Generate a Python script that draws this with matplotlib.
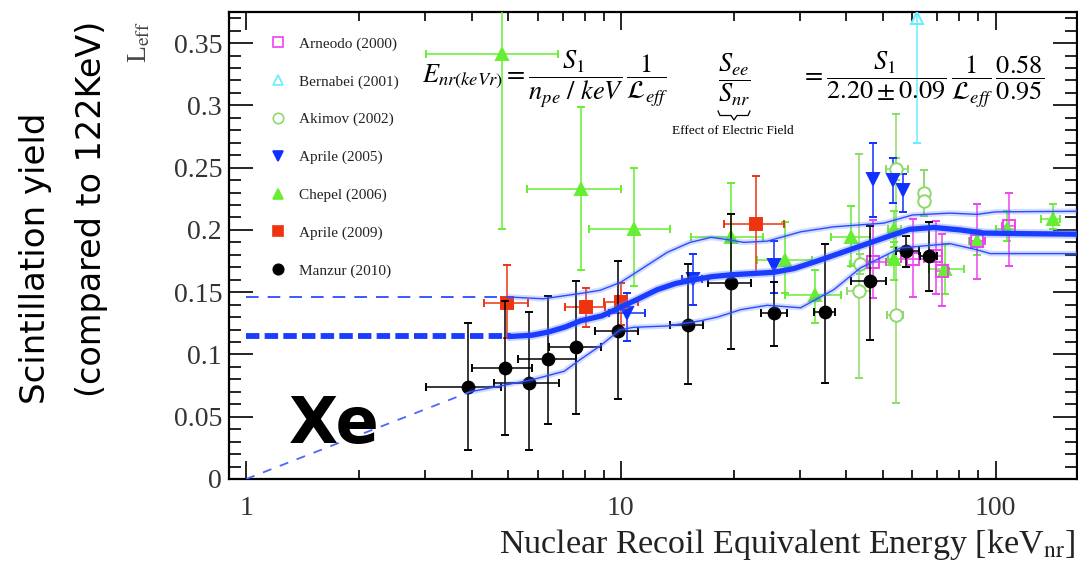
import matplotlib

matplotlib.use("Agg")
import matplotlib.pyplot as plt
import numpy as np
from matplotlib.lines import Line2D
from matplotlib.ticker import FixedLocator, FuncFormatter, MultipleLocator, NullFormatter

plt.rcParams["mathtext.fontset"] = "stix"
SERIF = "Liberation Serif"

# Manzur (2010): central value plus lower/upper bounds in y and x
manzur_x = [3.9, 4.9, 5.7, 6.4, 7.6, 9.8, 15.1, 19.7, 25.6, 35.1, 46.2, 57.8, 66.5]
manzur_y = [0.074, 0.089, 0.077, 0.096, 0.106, 0.119, 0.124, 0.157, 0.133, 0.134, 0.159, 0.183, 0.179]
manzur_ylo = [0.023, 0.035, 0.023, 0.044, 0.052, 0.064, 0.076, 0.104, 0.107, 0.077, 0.112, 0.170, 0.151]
manzur_yhi = [0.125, 0.143, 0.134, 0.147, 0.159, 0.175, 0.173, 0.213, 0.158, 0.189, 0.203, 0.195, 0.206]
manzur_xlo = [3.02, 4.0, 4.59, 5.3, 6.44, 8.54, 13.5, 17.1, 23.7, 32.8, 41.2, 54.4, 63.0]
manzur_xhi = [4.79, 5.81, 6.85, 7.59, 8.84, 11.1, 16.6, 22.3, 27.7, 37.3, 51.1, 62.4, 70.0]

# Aprile (2009)
apr09_x = [4.97, 8.07, 10.0, 23.0]
apr09_y = [0.141, 0.138, 0.142, 0.205]
apr09_ylo = [0.113, 0.122, 0.124, 0.166]
apr09_yhi = [0.172, 0.153, 0.157, 0.243]
apr09_xlo = [4.32, 7.1, 9.0, 18.8]
apr09_xhi = [5.67, 9.06, 11.1, 27.3]

# Aprile (2005)
apr05_x = [10.4, 15.6, 25.6, 47.2, 53.4, 56.6]
apr05_y = [0.133, 0.161, 0.172, 0.241, 0.240, 0.232]
apr05_ylo = [0.111, 0.140, 0.149, 0.210, 0.222, 0.214]
apr05_yhi = [0.149, 0.181, 0.191, 0.270, 0.258, 0.245]
apr05_xlo = [9.3, 14.6, 25.6, 47.2, 53.4, 56.6]
apr05_xhi = [11.6, 16.5, 25.6, 47.2, 53.4, 56.6]

# Chepel (2006)
chepel_x = [4.82, 7.82, 10.85, 19.7, 27.5, 33.0, 41.2, 53.6, 53.6, 73.5, 89.4, 107, 142]
chepel_y = [0.341, 0.233, 0.201, 0.194, 0.176, 0.148, 0.194, 0.201, 0.177, 0.1685, 0.191, 0.201, 0.209]
chepel_ylo = [0.201, 0.168, 0.155, 0.165, 0.149, 0.125, 0.171, 0.186, 0.160, 0.1485, 0.180, 0.191, 0.2006]
chepel_yhi = [0.42, 0.299, 0.250, 0.238, 0.206, 0.168, 0.219, 0.215, 0.190, 0.1886, 0.200, 0.215, 0.2207]
chepel_xlo = [3.02, 5.63, 8.2, 15.4, 23.1, 27.5, 36.4, 51.5, 51.5, 66.3, 85.0, 100, 132.5]
chepel_xhi = [6.78, 10.0, 13.5, 23.9, 32.4, 38.7, 46.2, 56.0, 56.0, 82.4, 94.0, 113, 149]

# Arneodo (2000)
arneodo_x = [47.0, 60.2, 69.5, 72.0, 89.4, 108.5]
arneodo_y = [0.174, 0.177, 0.179, 0.167, 0.191, 0.203]
arneodo_ylo = [0.145, 0.146, 0.1485, 0.1386, 0.161, 0.171]
arneodo_yhi = [0.208, 0.209, 0.2075, 0.197, 0.221, 0.230]
arneodo_xlo = [43.2, 55.8, 67.0, 69.5, 85.5, 104]
arneodo_xhi = [51.0, 64.3, 72.0, 75.0, 93.5, 113]

# Bernabei (2001)
bernabei_x = [61.8]
bernabei_y = [0.370]
bernabei_ylo = [0.2697]
bernabei_yhi = [0.46]

# Akimov (2002)
akimov_x = [43.2, 43.5, 54.3, 54.1, 64.4, 64.4]
akimov_y = [0.1513, 0.173, 0.249, 0.132, 0.230, 0.2236]
akimov_ylo = [0.0814, 0.165, 0.240, 0.061, 0.211, 0.211]
akimov_yhi = [0.261, 0.181, 0.258, 0.293, 0.248, 0.248]
akimov_xlo = [40.2, 41.0, 51.0, 51.2, 62.5, 62.5]
akimov_xhi = [46.2, 46.0, 58.4, 56.7, 66.5, 66.5]

# Fitted Leff curve with its 1-sigma band; flat extrapolation below 5 keV
fit_x = [5.1, 5.8, 6.4, 7.1, 7.8, 8.9, 10, 11.2, 12.5, 14, 15.7, 17.5, 19.7, 22.5, 25.6, 29,
         33.4, 39, 45.5, 52, 59, 68.5, 80.5, 93, 120, 165]
fit_y = [0.1145, 0.1155, 0.118, 0.122, 0.127, 0.131, 0.138, 0.145, 0.152, 0.157, 0.160, 0.1625,
         0.164, 0.165, 0.166, 0.169, 0.175, 0.182, 0.189, 0.195, 0.2005, 0.202, 0.200, 0.1975,
         0.197, 0.1966]
fit_ext_x = [1.0, 5.1]
fit_ext_y = [0.1145, 0.1145]

band_hi_x = [5.0, 6.2, 7.8, 8.8, 10, 11, 13.3, 15.3, 17.4, 19, 21.3, 24.6, 30.2, 37, 50.4, 60,
             75.5, 89.4, 100, 165]
band_hi_y = [0.1462, 0.1447, 0.149, 0.1515, 0.158, 0.166, 0.182, 0.190, 0.194, 0.1925, 0.190,
             0.191, 0.1985, 0.2025, 0.2055, 0.212, 0.2135, 0.2125, 0.2145, 0.215]
band_hi_ext_x = [1.0, 5.0]
band_hi_ext_y = [0.1462, 0.1462]

band_lo_x = [3.96, 5.76, 7.06, 7.8, 8.8, 9.94, 10.8, 13.3, 16.3, 18.1, 20.9, 24.6, 30.2, 37,
             43.6, 55.7, 75.5, 89.4, 96.8, 165]
band_lo_y = [0.0700, 0.0795, 0.0865, 0.096, 0.1068, 0.1197, 0.1218, 0.1229, 0.127, 0.130,
             0.136, 0.1395, 0.1375, 0.152, 0.1695, 0.1855, 0.189, 0.184, 0.181, 0.181]
band_lo_ext_x = [1.0, 3.96]
band_lo_ext_y = [0.0, 0.0700]

series = [
    ("Arneodo (2000)", "s", "#ee44ee", "none"),
    ("Bernabei (2001)", "^", "#66eeff", "none"),
    ("Akimov (2002)", "o", "#8fd86a", "none"),
    ("Aprile (2005)", "v", "#1030ff", "#1030ff"),
    ("Chepel (2006)", "^", "#66ee33", "#66ee33"),
    ("Aprile (2009)", "s", "#ee3311", "#ee3311"),
    ("Manzur (2010)", "o", "black", "black"),
]


def bounds_to_err(v, lo, hi):
    v = np.asarray(v, float)
    return [v - np.asarray(lo, float), np.asarray(hi, float) - v]


fig = plt.figure(figsize=(10.78, 5.76), dpi=100)
ax = fig.add_axes([229 / 1078, 97 / 576, 848 / 1078, 467 / 576])
ax.set_xscale("log")
ax.set_xlim(0.9, 165)
ax.set_ylim(0, 0.375)


def draw(x, y, ylo, yhi, xlo, xhi, marker, color, face, ms, lw=1.1, z=3):
    xerr = None if xlo is None else bounds_to_err(x, xlo, xhi)
    ax.errorbar(x, y, yerr=bounds_to_err(y, ylo, yhi), xerr=xerr, fmt=marker, ms=ms,
                color=color, mfc=face, mec=color, mew=1.4, elinewidth=lw, capsize=3,
                capthick=lw, zorder=z)


draw(akimov_x, akimov_y, akimov_ylo, akimov_yhi, akimov_xlo, akimov_xhi, "o", "#8fd86a", "white", 9)
draw(chepel_x, chepel_y, chepel_ylo, chepel_yhi, chepel_xlo, chepel_xhi, "^", "#66ee33", "#66ee33", 9)
draw(arneodo_x, arneodo_y, arneodo_ylo, arneodo_yhi, arneodo_xlo, arneodo_xhi, "s", "#ee44ee", "none", 9)
draw(bernabei_x, bernabei_y, bernabei_ylo, bernabei_yhi, None, None, "^", "#66eeff", "none", 9)
draw(apr05_x, apr05_y, apr05_ylo, apr05_yhi, apr05_xlo, apr05_xhi, "v", "#1030ff", "#1030ff", 9)
draw(apr09_x, apr09_y, apr09_ylo, apr09_yhi, apr09_xlo, apr09_xhi, "s", "#ee3311", "#ee3311", 8.5)
draw(manzur_x, manzur_y, manzur_ylo, manzur_yhi, manzur_xlo, manzur_xhi, "o", "black", "black", 8.5, z=4)

# fit band (thin lines with a soft halo) and central curve
blue = "#1a3cff"
for xs, ys in [(band_hi_x, band_hi_y), (band_lo_x, band_lo_y)]:
    ax.plot(xs, ys, color="#5070ff", lw=4, alpha=0.25, zorder=5, solid_capstyle="butt")
    ax.plot(xs, ys, color="#2a4cff", lw=1.0, zorder=5)
ax.plot(band_hi_ext_x, band_hi_ext_y, color="#2a4cff", lw=1.3, dashes=(7, 5), zorder=5)
ax.plot(band_lo_ext_x, band_lo_ext_y, color="#4a66ff", lw=1.3, dashes=(5, 5), zorder=5)
ax.plot(fit_x, fit_y, color="#6080ff", lw=6.5, alpha=0.35, zorder=6)
ax.plot(fit_x, fit_y, color=blue, lw=3.8, zorder=6)
ax.plot(fit_ext_x, fit_ext_y, color=blue, lw=4.2, dashes=(2.3, 0.9), zorder=6)

# axes styling
for s in ax.spines.values():
    s.set_linewidth(1.6)
ax.xaxis.set_major_locator(FixedLocator([1, 10, 100]))
ax.xaxis.set_major_formatter(FuncFormatter(lambda v, p: f"{v:g}"))
ax.xaxis.set_minor_locator(FixedLocator([k * 10.0 ** d for d in range(-1, 3) for k in range(2, 10)]))
ax.xaxis.set_minor_formatter(NullFormatter())
ax.yaxis.set_major_locator(MultipleLocator(0.05))
ax.yaxis.set_minor_locator(MultipleLocator(0.01))
ax.yaxis.set_major_formatter(FuncFormatter(lambda v, p: f"{v:g}"))
ax.tick_params(axis="both", which="both", direction="in", top=True, right=True,
               width=1.2, labelsize=20, labelcolor="#333333")
ax.tick_params(axis="x", which="major", length=13, pad=12)
ax.tick_params(axis="x", which="minor", length=6.5)
ax.tick_params(axis="y", which="major", length=17, pad=5)
ax.tick_params(axis="y", which="minor", length=8.5)
for lab in ax.get_xticklabels() + ax.get_yticklabels():
    lab.set_fontfamily(SERIF)

# legend
handles = [Line2D([], [], ls="none", marker=m, color=c, mfc=f, mec=c, ms=7.5, mew=1.2)
           for _, m, c, f in series]
leg = ax.legend(handles, [s[0] for s in series], loc="upper left", bbox_to_anchor=(0.043, 0.96),
                frameon=False, prop={"family": SERIF, "size": 11}, labelspacing=1.57,
                handlelength=0.8, handletextpad=1.0, borderaxespad=0)
for t in leg.get_texts():
    t.set_color("#222222")

# annotations
ax.text(1.72, 0.043, "Xe", fontsize=46, fontweight="bold", family="DejaVu Sans",
        ha="center", va="center", zorder=8)

fig.text(545 / 1078, 1 - 80 / 576, r"$E_{nr(keVr)} = \dfrac{S_1}{n_{pe}\ /\ keV}\,\dfrac{1}{\mathcal{L}_{eff}}$",
         fontsize=19, ha="center", va="center")
fig.text(734 / 1078, 1 - 80 / 576, r"$\dfrac{S_{ee}}{S_{nr}}$", fontsize=19, ha="center", va="center")
brace_px = [(718, 111), (720, 115.5), (731, 115.5), (734, 120), (737, 115.5), (748, 115.5), (750, 111)]
fig.add_artist(Line2D([p[0] / 1078 for p in brace_px], [1 - p[1] / 576 for p in brace_px],
                      color="black", lw=0.9))
fig.text(733 / 1078, 1 - 131 / 576, "Effect of Electric Field", fontsize=9.5, family=SERIF,
         ha="center", va="center")
fig.text(923 / 1078, 1 - 80 / 576,
         r"$= \dfrac{S_1}{2.20 \pm 0.09}\,\dfrac{1}{\mathcal{L}_{eff}}\,\dfrac{0.58}{0.95}$",
         fontsize=19, ha="center", va="center")

fig.text(1075 / 1078, 1 - 545 / 576, r"Nuclear Recoil Equivalent Energy [keV$_{\mathrm{nr}}$]",
         fontsize=24.5, family=SERIF, ha="right", va="center", color="#222222")
fig.text(140 / 1078, 1 - 42 / 576, r"L$_{\mathrm{eff}}$", fontsize=20, family=SERIF,
         rotation=90, ha="center", va="center", color="#444444")
fig.text(36 / 1078, 1 - 258 / 576, "Scintillation yield", fontsize=24.5, family="DejaVu Sans",
         rotation=90, ha="center", va="center")
fig.text(92 / 1078, 1 - 209 / 576, "(compared to 122KeV)", fontsize=24, family="DejaVu Sans",
         rotation=90, ha="center", va="center")

fig.savefig("out.png", dpi=100)
